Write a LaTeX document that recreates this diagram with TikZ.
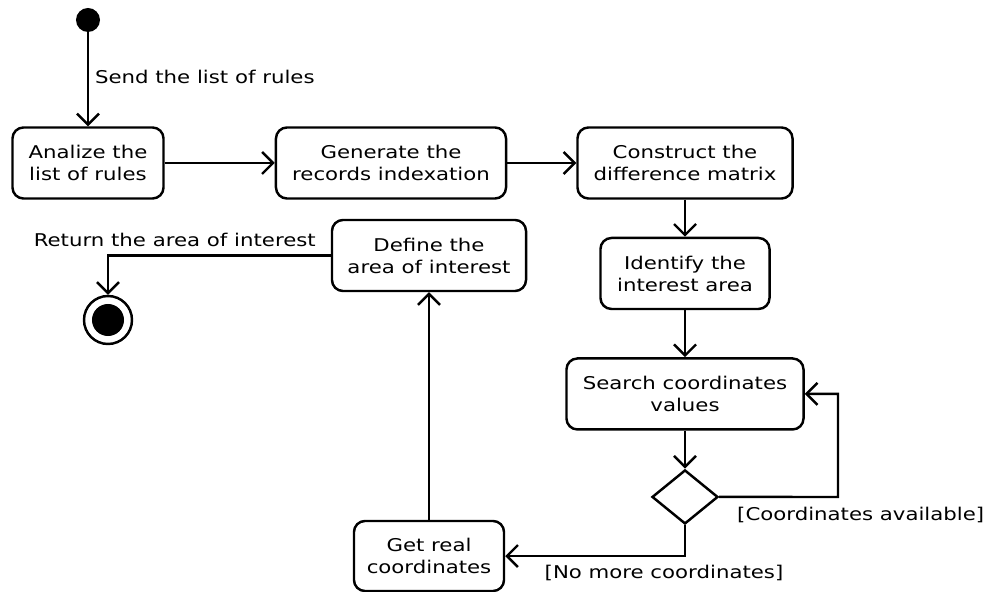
\documentclass[tikz,border=0pt]{standalone}
\usepackage{fontspec}
\setmainfont{DejaVu Sans}[FakeStretch=1.21]
\usetikzlibrary{shapes.geometric,arrows.meta,positioning}
\def \tu {0.02cm}

\begin{document}
\begin{tikzpicture}[
    font=\fontsize{10}{12.5}\selectfont,
    act/.style={draw,line width=1.4pt,rounded corners=0.22cm,align=center,
                minimum height=71*\tu,inner sep=0pt},
    choice/.style={draw,diamond,line width=1.4pt,minimum width=66*\tu,
                   minimum height=54*\tu,inner sep=0pt},
    flow/.style={line width=1.4pt,-{Straight Barb[length=2.2mm,width=4.4mm]}}]
    \useasboundingbox (0,0) rectangle (19.68,-11.84);
    \node[circle,fill,minimum size=24*\tu,inner sep=0pt] (start) at (1.76,-0.40) {};
    \node[act,minimum width=151*\tu] (analize) at (1.76,-3.26) {Analize the\\list of rules};
    \node[act,minimum width=230*\tu] (generate) at (7.82,-3.26) {Generate the\\records indexation};
    \node[act,minimum width=215*\tu] (construct) at (13.70,-3.26) {Construct the\\difference matrix};
    \node[act,minimum width=169*\tu,below=37*\tu of construct] (identify) {Identify the\\interest area};
    \node[act,minimum width=237*\tu,below=47*\tu of identify] (search) {Search coordinates\\values};
    \node[choice,below=38*\tu of search] (test) {};
    \node[act,minimum width=150*\tu,minimum height=70*\tu] (getreal) at (8.58,-11.12) {Get real\\coordinates};
    \node[act,minimum width=194*\tu] (define) at (8.58,-5.11) {Define the\\area of interest};
    \node[circle,draw,line width=1.4pt,minimum size=48*\tu,inner sep=0pt] (final) at (2.16,-6.40) {};
    \node[circle,fill,minimum size=32*\tu,inner sep=0pt] at (final) {};
    \coordinate (loop) at (16.76,-9.94);
    % transitions
    \draw[flow] (start) -- node[right,pos=0.48] (send) {Send the list of rules} (analize);
    \draw[flow] (analize) -- (generate);
    \draw[flow] (generate) -- (construct);
    \draw[flow] (construct) -- (identify);
    \draw[flow] (identify) -- (search);
    \draw[flow] (search) -- (test);
    \draw[flow] (test.east) -- (loop) |- (search.east);
    \node[anchor=north west] (avail) at (14.62,-10.02) {[Coordinates available]};
    \draw[flow] (test.south) |- (getreal.east);
    \node (nomore) at (13.28,-11.46) {[No more coordinates]};
    \draw[flow] (getreal) -- (define);
    \draw[flow] (define.west) -| (final.north);
    \node[anchor=south east] (return) at (6.44,-5.06) {Return the area of interest};
\end{tikzpicture}
\end{document}
